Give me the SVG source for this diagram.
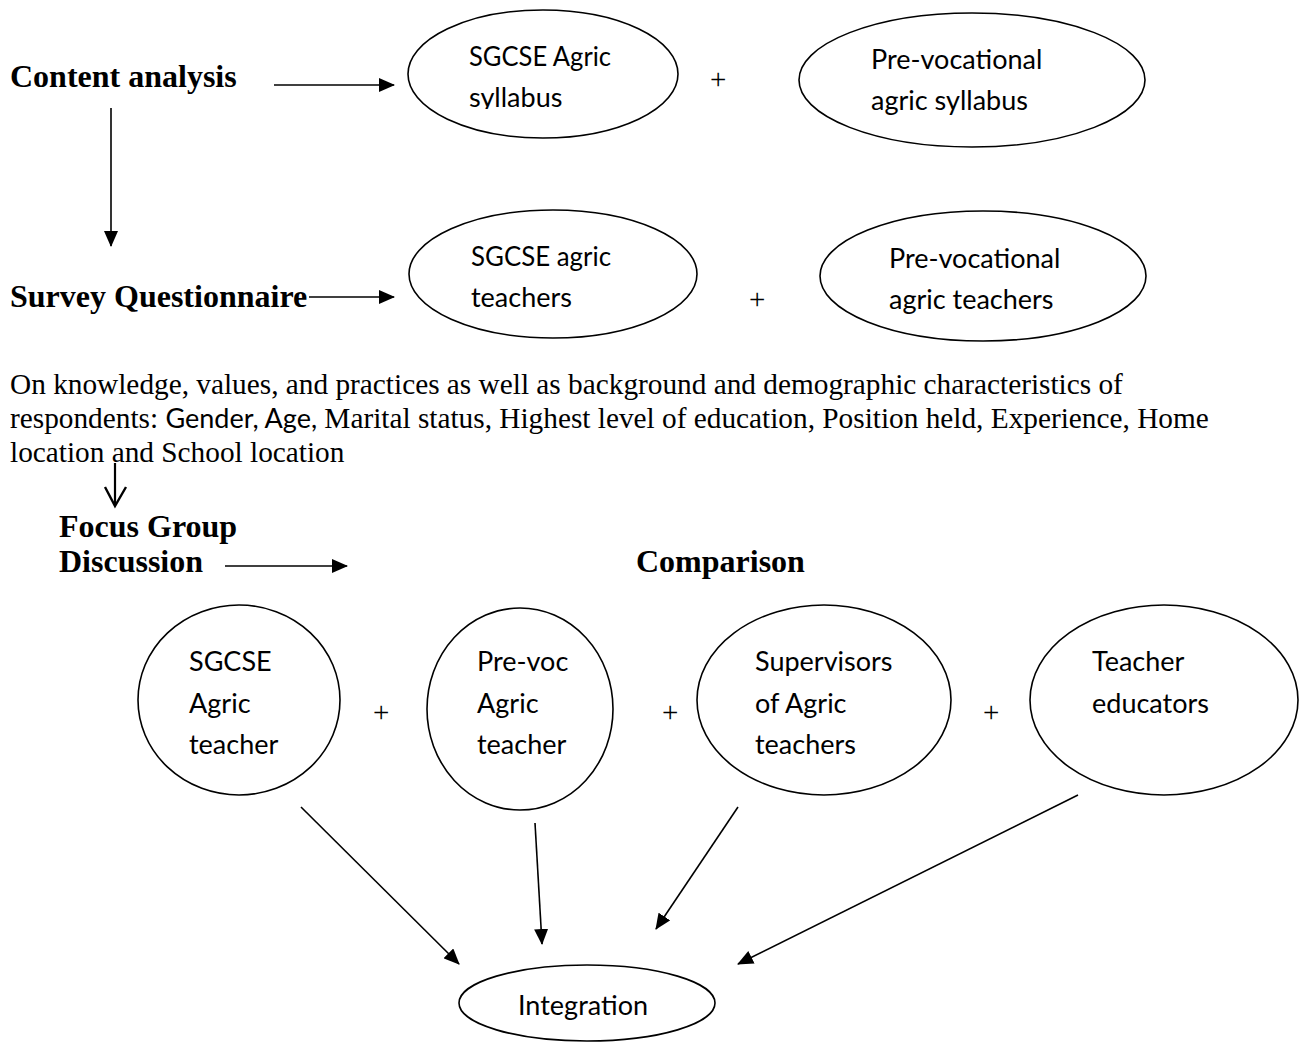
<svg xmlns="http://www.w3.org/2000/svg" width="1308" height="1042" viewBox="0 0 1308 1042">
<style>
.bg{fill:#ffffff}
.node{fill:#ffffff;stroke:#000;stroke-width:1.6}
.h{font-family:"Liberation Serif","Times New Roman",serif;font-weight:bold;font-size:32px;fill:#000}
.p{font-family:"Liberation Serif","Times New Roman",serif;font-size:29.3px;fill:#000}
.c{font-family:Lato,"Liberation Sans",sans-serif;font-size:27px;fill:#000}
.plus{font-family:"Liberation Serif","Times New Roman",serif;font-size:29px;fill:#000}
.edge{stroke:#000;stroke-width:1.6;fill:none}
</style>
<defs>
<marker id="ah" markerUnits="userSpaceOnUse" markerWidth="16" markerHeight="14" refX="15" refY="7" orient="auto">
<path d="M0,0 L16,7 L0,14 Z" fill="#000"/>
</marker>
<clipPath id="clip1"><rect x="400" y="0" width="300" height="109"/></clipPath>
</defs>
<rect class="bg" x="0" y="0" width="1308" height="1042"/>

<g id="content-analysis">
<text class="h" x="10" y="87">Content analysis</text>
</g>
<g id="survey-questionnaire">
<text class="h" x="10" y="307">Survey Questionnaire</text>
</g>

<g id="sgcse-syllabus">
<ellipse class="node" cx="543" cy="74" rx="135" ry="64"/>
<g clip-path="url(#clip1)">
<text class="c" x="469" y="66" textLength="142" lengthAdjust="spacingAndGlyphs">SGCSE Agric</text>
<text class="c" x="469" y="107">syllabus</text>
</g>
</g>
<text class="plus" x="710" y="89">+</text>
<g id="prevoc-syllabus">
<ellipse class="node" cx="972" cy="80" rx="173" ry="67"/>
<text class="c" x="871" y="69">Pre-vocational</text>
<text class="c" x="871" y="110">agric syllabus</text>
</g>

<g id="sgcse-teachers">
<ellipse class="node" cx="553" cy="274" rx="144" ry="64"/>
<text class="c" x="471" y="266" textLength="140" lengthAdjust="spacingAndGlyphs">SGCSE agric</text>
<text class="c" x="471" y="307">teachers</text>
</g>
<text class="plus" x="749" y="309">+</text>
<g id="prevoc-teachers">
<ellipse class="node" cx="983" cy="276" rx="163" ry="65"/>
<text class="c" x="889" y="268">Pre-vocational</text>
<text class="c" x="889" y="309">agric teachers</text>
</g>

<g id="survey-topics">
<text class="p" x="10" y="394">On knowledge, values, and practices as well as background and demographic characteristics of</text>
<text class="p" x="10" y="428">respondents: <tspan style="font-family:Lato,'Liberation Sans',sans-serif;font-size:27px">Gender, Age,</tspan> Marital status, Highest level of education, Position held, Experience, Home</text>
<text class="p" x="10" y="462">location and School location</text>
</g>

<g id="focus-group">
<text class="h" x="59" y="537">Focus Group</text>
<text class="h" x="59" y="572">Discussion</text>
</g>
<g id="comparison">
<text class="h" x="636" y="572">Comparison</text>
</g>

<g id="sgcse-agric-teacher">
<ellipse class="node" cx="239" cy="700" rx="101" ry="95"/>
<text class="c" x="189" y="671">SGCSE</text>
<text class="c" x="189" y="713">Agric</text>
<text class="c" x="189" y="754">teacher</text>
</g>
<text class="plus" x="373" y="722">+</text>
<g id="prevoc-agric-teacher">
<ellipse class="node" cx="520" cy="709" rx="93" ry="101"/>
<text class="c" x="477" y="671">Pre-voc</text>
<text class="c" x="477" y="713">Agric</text>
<text class="c" x="477" y="754">teacher</text>
</g>
<text class="plus" x="662" y="722">+</text>
<g id="supervisors">
<ellipse class="node" cx="824" cy="700" rx="127" ry="95"/>
<text class="c" x="755" y="671">Supervisors</text>
<text class="c" x="755" y="713">of Agric</text>
<text class="c" x="755" y="754">teachers</text>
</g>
<text class="plus" x="983" y="722">+</text>
<g id="teacher-educators">
<ellipse class="node" cx="1164" cy="700" rx="134" ry="95"/>
<text class="c" x="1092" y="671">Teacher</text>
<text class="c" x="1092" y="713">educators</text>
</g>

<g id="integration">
<ellipse class="node" cx="587" cy="1003" rx="128" ry="38"/>
<text class="c" x="518" y="1015">Integration</text>
</g>

<g id="connectors">
<line class="edge" x1="274" y1="85" x2="394" y2="85" marker-end="url(#ah)"/>
<line class="edge" x1="111" y1="108" x2="111" y2="246" marker-end="url(#ah)"/>
<line class="edge" x1="309" y1="297" x2="394" y2="297" marker-end="url(#ah)"/>
<line class="edge" x1="115" y1="463" x2="115" y2="505" style="stroke-width:2.2"/>
<polyline class="edge" points="105,487 115,506 126,487" style="stroke-width:2.4"/>
<line class="edge" x1="225" y1="566" x2="347" y2="566" marker-end="url(#ah)"/>
<line class="edge" x1="301" y1="807" x2="459" y2="964" marker-end="url(#ah)"/>
<line class="edge" x1="535" y1="823" x2="542" y2="944" marker-end="url(#ah)"/>
<line class="edge" x1="738" y1="807" x2="656" y2="929" marker-end="url(#ah)"/>
<line class="edge" x1="1078" y1="795" x2="738" y2="964" marker-end="url(#ah)"/>
</g>
</svg>
